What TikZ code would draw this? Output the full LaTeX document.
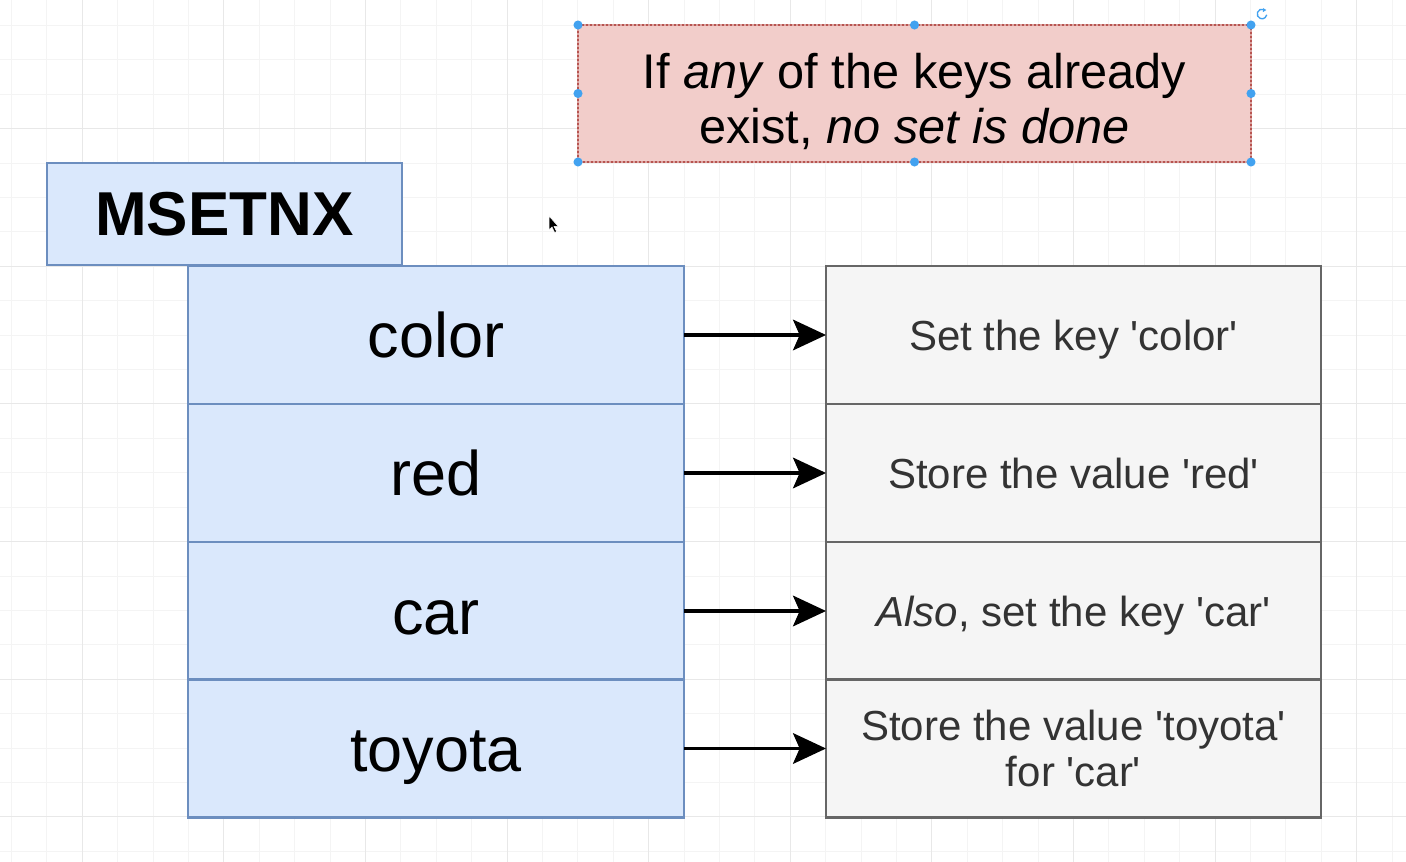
\documentclass[tikz,border=0pt]{standalone}
\usepackage{fontspec}
\setmainfont{Liberation Sans}[Ligatures=TeXOff]
\usetikzlibrary{arrows.meta}

\definecolor{bluefill}{HTML}{DAE8FC}
\definecolor{blueline}{HTML}{6C8EBF}
\definecolor{greyfill}{HTML}{F5F5F5}
\definecolor{greyline}{HTML}{666666}
\definecolor{greytext}{HTML}{333333}
\definecolor{redfill}{HTML}{F2CDCA}
\definecolor{redline}{HTML}{B85450}
\definecolor{reddash}{HTML}{D9A3A0}
\definecolor{gridminor}{HTML}{F4F4F4}
\definecolor{gridmajor}{HTML}{E8E8E8}
\definecolor{handle}{HTML}{42A2F0}

\tikzset{
  every node/.style={inner sep=0pt, outer sep=0pt},
  titlebox/.style={draw=blueline, fill=bluefill, line width=2.2pt,
    minimum width=266.25pt, minimum height=76.5pt,
    font=\fontsize{46.5pt}{53pt}\selectfont\bfseries},
  keybox/.style={draw=blueline, fill=bluefill, line width=2.2pt,
    minimum width=372pt, minimum height=103.5pt,
    text height=34.5pt, text depth=0pt,
    font=\fontsize{47.25pt}{54pt}\selectfont},
  actbox/.style={draw=greyline, fill=greyfill, line width=2.2pt,
    minimum width=371.25pt, minimum height=103.5pt, text=greytext,
    align=center, font=\fontsize{31.5pt}{36pt}\selectfont},
  oneline/.style={text height=23pt, text depth=0pt},
  notebox/.style={draw=redline, fill=redfill, line width=1.8pt,
    minimum width=504.75pt, minimum height=102.75pt},
  notetext/.style={align=center, font=\fontsize{36.5pt}{41.25pt}\selectfont},
  link/.style={line width=2.3pt, -{Stealth[length=24.75pt, width=23pt, inset=5pt]}},
  grip/.style={fill=handle},
}

\begin{document}
\begin{tikzpicture}[x=0.75pt, y=-0.75pt]
  % canvas
  \fill[white] (0,0) rectangle (1406,862);
  \useasboundingbox (0,0) rectangle (1406,862);

  % background grid: fine lines, with every fourth one stronger
  \foreach \i in {-2,...,37}
    \draw[gridminor, line width=0.75pt] ({82.3+35.4*\i},0) -- ({82.3+35.4*\i},862);
  \foreach \j in {-12,...,14}
    \draw[gridminor, line width=0.75pt] (0,{404+34.4*\j}) -- (1406,{404+34.4*\j});
  \foreach \i in {0,...,9}
    \draw[gridmajor, line width=0.75pt] ({82.3+141.6*\i},0) -- ({82.3+141.6*\i},862);
  \foreach \j in {-2,...,3}
    \draw[gridmajor, line width=0.75pt] (0,{404+137.6*\j}) -- (1406,{404+137.6*\j});

  % command arguments
  \node[keybox] (k1) at (436,335)   {color};
  \node[keybox] (k2) at (436,473)   {red};
  \node[keybox] (k3) at (436,611)   {car};
  \node[keybox] (k4) at (436,748.5) {toyota};

  % command name
  \node[titlebox] (cmd) at (224.5,214) {MSETNX};

  % what happens to each argument
  \node[actbox, oneline] (a1) at (1073.5,335) {Set the key 'color'};
  \node[actbox, oneline] (a2) at (1073.5,473) {Store the value 'red'};
  \node[actbox, oneline] (a3) at (1073.5,611) {\textit{Also}, set the key 'car'};
  \node[actbox] (a4) at (1073.5,748.5) {Store the value 'toyota'\\[-1pt]for 'car'};

  \draw[link] (k1.east) -- (a1.west);
  \draw[link] (k2.east) -- (a2.west);
  \draw[link] (k3.east) -- (a3.west);
  \draw[link] (k4.east) -- (a4.west);

  % note, shown selected
  \node[notebox] (note) at (914.5,93.5) {};
  \draw[reddash, line width=0.8pt, dash pattern=on 1.5pt off 1.5pt]
    (note.north west) rectangle (note.south east);
  \node[notetext] (notetxt) at (914.5,101.5)
    {If \textit{any} of the keys already\\exist, \textit{no set is done}};

  % selection handles
  \foreach \a in {north west, north, north east, west, east, south west, south, south east}
    \fill[grip] (note.\a) circle[radius=3.4pt];
  \coordinate (rot) at (1262,14);
  \draw[handle, line width=1pt] ([shift={(70:3.6pt)}]rot) arc[start angle=70, end angle=350, radius=3.6pt];
  \fill[handle] ([shift={(70:3.6pt)}]rot) ++(2pt,-0.4pt) -- ++(-2.6pt,-1.6pt) -- ++(0.2pt,3pt) -- cycle;

  % mouse pointer
  \coordinate (ptr) at (549,216);
  \filldraw[black, draw=white, line width=0.4pt] (ptr) -- ++(0,14) -- ++(3,-3) -- ++(2.6,5.5)
    -- ++(2,-1) -- ++(-2.6,-5.2) -- ++(4.2,0) -- cycle;
\end{tikzpicture}
\end{document}
